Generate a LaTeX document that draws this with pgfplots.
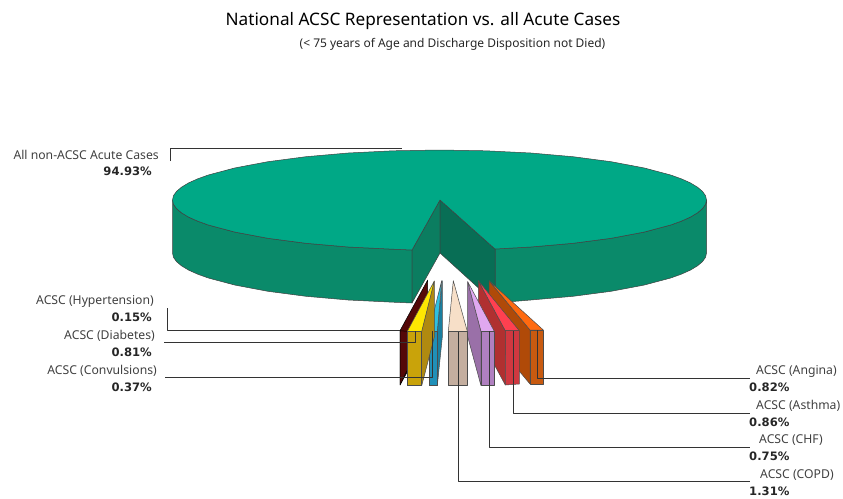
\documentclass[border=0pt]{standalone}
\usepackage{pgfplots}
\pgfplotsset{compat=1.18}
\usepackage{fontspec}
\setmainfont{Noto Sans}
\newfontfamily\valfont{DejaVu Sans}
\definecolor{ptop}{HTML}{00A886}
\definecolor{pwall}{HTML}{0A8A6A}
\definecolor{pinl}{HTML}{0B7D60}
\definecolor{pinr}{HTML}{086E55}
\definecolor{lead}{HTML}{333333}
\begin{document}
\begin{tikzpicture}
\begin{axis}[
  scale only axis, width=843pt, height=498pt,
  xmin=0, xmax=843, ymin=0, ymax=498, y dir=reverse,
  hide axis, clip=false, no marks,
  every axis plot/.append style={line width=0.5pt, line join=round},
]
\path (axis cs:0,0) rectangle (axis cs:843,498);
% pie walls
\addplot[draw=black!75,fill=pwall] coordinates {(495,249)(530.8,247)(573,243.3)(611.1,238.3)(644,232.1)(670.7,225)(681.5,221.1)(690.4,217.1)(697.4,212.9)(702.4,208.7)(705.5,204.4)(706.5,200)(706.5,253)(705.5,257.4)(702.4,261.7)(697.4,265.9)(690.4,270.1)(681.5,274.1)(670.7,278)(644,285.1)(611.1,291.3)(573,296.3)(530.8,300)(495,303)} -- cycle;
\addplot[draw=black!75,fill=pwall] coordinates {(412,250)(393.1,249.2)(348.2,247)(306,243.3)(267.9,238.3)(235,232.1)(208.3,225)(197.5,221.1)(188.6,217.1)(181.6,212.9)(176.6,208.7)(173.5,204.4)(172.5,200)(172.5,253)(173.5,257.4)(176.6,261.7)(181.6,265.9)(188.6,270.1)(197.5,274.1)(208.3,278)(235,285.1)(267.9,291.3)(306,296.3)(348.2,300)(393.1,302.2)(412,303)} -- cycle;
% cut walls
\addplot[draw=black!75,fill=pinl] coordinates {(440,200)(412,250)(412,303)(440,253)} -- cycle;
\addplot[draw=black!75,fill=pinr] coordinates {(440,200)(495,249)(495,303)(440,253)} -- cycle;
% pie top
\addplot[draw=black!75,fill=ptop] coordinates {(440,200)(495,249)(530.8,247)(573,243.3)(611.1,238.3)(644,232.1)(670.7,225)(681.5,221.1)(690.4,217.1)(697.4,212.9)(702.4,208.7)(705.5,204.4)(706.5,200)(705.5,195.6)(702.4,191.3)(697.4,187.1)(690.4,182.9)(681.5,178.9)(670.7,175)(644,167.9)(611.1,161.7)(573,156.7)(530.8,153)(485.9,150.8)(439.5,150)(393.1,150.8)(348.2,153)(306,156.7)(267.9,161.7)(235,167.9)(208.3,175)(197.5,178.9)(188.6,182.9)(181.6,187.1)(176.6,191.3)(173.5,195.6)(172.5,200)(173.5,204.4)(176.6,208.7)(181.6,212.9)(188.6,217.1)(197.5,221.1)(208.3,225)(235,232.1)(267.9,238.3)(306,243.3)(348.2,247)(393.1,249.2)(412,250)} -- cycle;
% Hypertension
\addplot[draw=black,fill={rgb,255:red,84;green,8;blue,8}] coordinates {(427.7,280)(400,330.7)(400,385)(427.7,335)} -- cycle;
\addplot[draw=black,fill={rgb,255:red,84;green,8;blue,8}] coordinates {(400,330.7)(407.3,331.3)(407.3,370)(400,385)} -- cycle;
% Convulsions
\addplot[draw=black!70,fill={rgb,255:red,26;green,127;blue,160}] coordinates {(442.3,280.7)(437.3,331.3)(437.3,385.7)(442.3,337)} -- cycle;
\addplot[draw=black!70,fill={rgb,255:red,48;green,192;blue,224}] coordinates {(441.7,280.7)(429,331.3)(437.3,331.3)} -- cycle;
\addplot[draw=black!70,fill={rgb,255:red,32;green,144;blue,184}] coordinates {(429,331.3)(437.3,331.3)(437.3,385.7)(429,385.7)} -- cycle;
% Diabetes
\addplot[draw=black!70,fill={rgb,255:red,176;green,138;blue,16}] coordinates {(434.3,281)(421.7,331.3)(421.7,385.7)(434.3,337)} -- cycle;
\addplot[draw=black!70,fill=yellow!90!orange] coordinates {(434.3,281)(407.3,331.3)(421.7,331.3)} -- cycle;
\addplot[draw=black!70,fill={rgb,255:red,201;green,163;blue,10}] coordinates {(407.3,331.3)(421.7,331.3)(421.7,385.7)(407.3,385.7)} -- cycle;
% Angina
\addplot[draw=black!70,fill={rgb,255:red,176;green,74;blue,8}] coordinates {(489,280.7)(530,330)(530,384)(489,335)} -- cycle;
\addplot[draw=black!70,fill={rgb,255:red,255;green,106;blue,16}] coordinates {(489,280.7)(530,330)(543.3,330)} -- cycle;
\addplot[draw=black!70,fill={rgb,255:red,200;green,90;blue,16}] coordinates {(530,330)(543.3,330)(543.3,384)(530,384)} -- cycle;
% Asthma
\addplot[draw=black!70,fill={rgb,255:red,176;green,48;blue,48}] coordinates {(478.3,280.7)(505.3,330.7)(505.3,385)(478.3,335)} -- cycle;
\addplot[draw=black!70,fill={rgb,255:red,255;green,64;blue,80}] coordinates {(478.3,280.7)(505.3,330.7)(519.3,330.7)} -- cycle;
\addplot[draw=black!70,fill={rgb,255:red,208;green,56;blue,64}] coordinates {(505.3,330.7)(519.3,330.7)(519.3,384)(505.3,385)} -- cycle;
% CHF
\addplot[draw=black!70,fill={rgb,255:red,154;green,112;blue,168}] coordinates {(467.7,281.7)(481,331.3)(481,385.7)(467.7,336.7)} -- cycle;
\addplot[draw=black!70,fill={rgb,255:red,224;green,168;blue,240}] coordinates {(467.7,281.7)(481,331.3)(494.3,331.3)} -- cycle;
\addplot[draw=black!70,fill={rgb,255:red,176;green,128;blue,192}] coordinates {(481,331.3)(494.3,331.3)(494.3,385.7)(481,385.7)} -- cycle;
% COPD
\addplot[draw=black!70,fill={rgb,255:red,247;green,223;blue,200}] coordinates {(453.3,280.7)(448.3,331.3)(467.3,331.3)} -- cycle;
\addplot[draw=black!70,fill={rgb,255:red,196;green,174;blue,159}] coordinates {(448.3,331.3)(467.3,331.3)(467.3,385.7)(448.3,385.7)} -- cycle;
% leader lines
\addplot[draw=lead,line width=0.8pt] coordinates {(170,161)(170,148.5)(402,148.5)};
\addplot[draw=lead,line width=0.8pt] coordinates {(167,308)(167,330.7)(400,330.7)};
\addplot[draw=lead,line width=0.8pt] coordinates {(164,342.5)(415,342.5)(415,331)};
\addplot[draw=lead,line width=0.8pt] coordinates {(165,377)(432,377)(432,331)};
\addplot[draw=lead,line width=0.8pt] coordinates {(458,332)(458,481.7)(750,481.7)};
\addplot[draw=lead,line width=0.8pt] coordinates {(489,331)(489,447.7)(750,447.7)};
\addplot[draw=lead,line width=0.8pt] coordinates {(513,331)(513,413)(750,413)};
\addplot[draw=lead,line width=0.8pt] coordinates {(537,330)(537,378)(750,378)};
% text
\tikzset{every node/.append style={inner sep=0pt}}
\node[anchor=center,font=\fontsize{17.2}{19}\selectfont,text=black] at (axis cs:423,21) {National ACSC Representation vs. all Acute Cases};
\node[anchor=center,font=\fontsize{12}{14}\selectfont,text=black!85] at (axis cs:452.5,44) {(< 75 years of Age and Discharge Disposition not Died)};
\def\lbl{\fontsize{12.2}{14}\selectfont}
\def\val{\fontsize{11.6}{14}\selectfont\valfont\bfseries}
\node[anchor=east,font=\lbl,text=black!75] at (axis cs:159,155) {All non-ACSC Acute Cases};
\node[anchor=east,font=\val,text=black!85] at (axis cs:152,171) {94.93\%};
\node[anchor=east,font=\lbl,text=black!75] at (axis cs:154,301) {ACSC (Hypertension)};
\node[anchor=east,font=\val,text=black!85] at (axis cs:152,317) {0.15\%};
\node[anchor=east,font=\lbl,text=black!75] at (axis cs:155,336) {ACSC (Diabetes)};
\node[anchor=east,font=\val,text=black!85] at (axis cs:152,352.5) {0.81\%};
\node[anchor=east,font=\lbl,text=black!75] at (axis cs:157,370.5) {ACSC (Convulsions)};
\node[anchor=east,font=\val,text=black!85] at (axis cs:152,387) {0.37\%};
\node[anchor=west,font=\lbl,text=black!75] at (axis cs:756,371) {ACSC (Angina)};
\node[anchor=west,font=\val,text=black!85] at (axis cs:749,387.5) {0.82\%};
\node[anchor=west,font=\lbl,text=black!75] at (axis cs:756,405.5) {ACSC (Asthma)};
\node[anchor=west,font=\val,text=black!85] at (axis cs:749,422) {0.86\%};
\node[anchor=west,font=\lbl,text=black!75] at (axis cs:759,440) {ACSC (CHF)};
\node[anchor=west,font=\val,text=black!85] at (axis cs:749,456.5) {0.75\%};
\node[anchor=west,font=\lbl,text=black!75] at (axis cs:760,475) {ACSC (COPD)};
\node[anchor=west,font=\val,text=black!85] at (axis cs:749,491.5) {1.31\%};
\end{axis}
\end{tikzpicture}
\end{document}
